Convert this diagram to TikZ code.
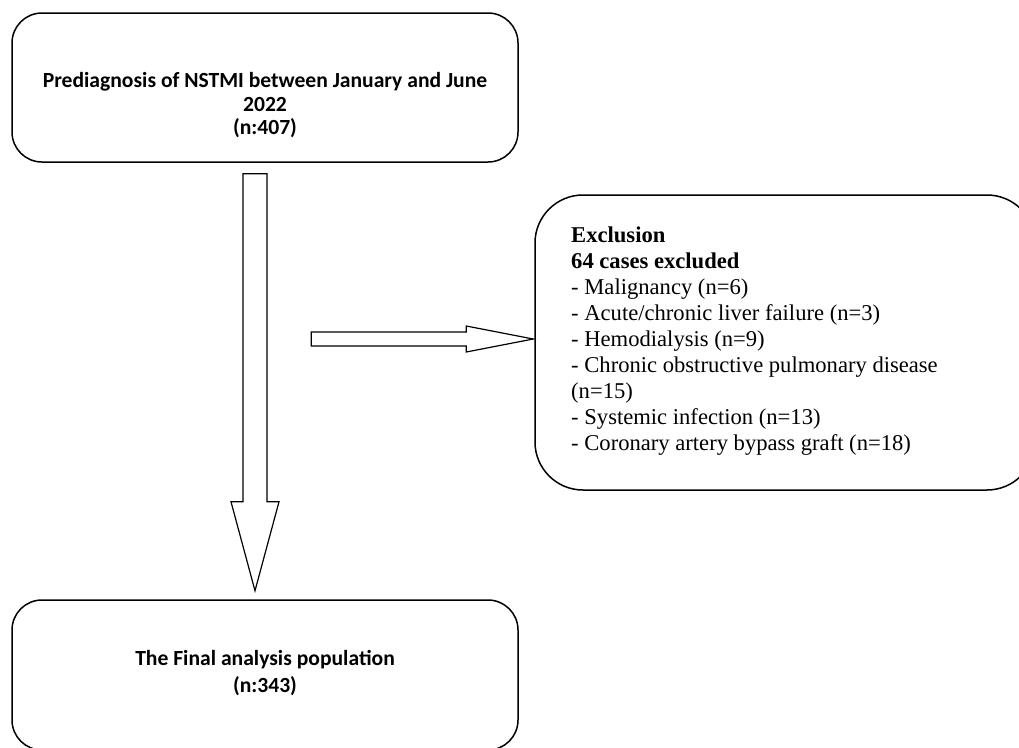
\documentclass[tikz,border=0pt]{standalone}
\usepackage{fontspec}
\setmainfont{Liberation Serif}
\setsansfont{Carlito}
\usetikzlibrary{positioning, calc}

\begin{document}
\begin{tikzpicture}[x=1pt, y=-1pt,
  box/.style={rectangle, draw, line width=1.5pt, rounded corners=30pt, inner sep=0pt},
  btxt/.style={font=\fontsize{21.6}{23.5}\selectfont\sffamily\bfseries, align=center},
  etxt/.style={font=\fontsize{22.6}{26}\selectfont, align=left, inner sep=0pt},
  hollow/.style={draw, line width=1.2pt, fill=white, line join=miter},
]
  \useasboundingbox (0,0) rectangle (1019,747);

  %% boxes
  \node[box, minimum width=506pt, minimum height=149pt] (prediag) at (265,87.5) {};
  \node[btxt] (prediagtxt) at ($(prediag.center)+(0,18)$)
    {Prediagnosis of NSTMI between January and June\\2022\\(n:407)};

  \node[box, rounded corners=48pt, minimum width=500pt, minimum height=295pt] (excl) at (785,342.5) {};
  \node[etxt, anchor=north west] (excltxt) at (571,227)
    {\textbf{Exclusion}\\\textbf{64 cases excluded}\\
     - Malignancy (n=6)\\
     - Acute/chronic liver failure (n=3)\\
     - Hemodialysis (n=9)\\
     - Chronic obstructive pulmonary disease\\
     (n=15)\\
     - Systemic infection (n=13)\\
     - Coronary artery bypass graft (n=18)};

  \node[box, minimum width=506pt, minimum height=150pt] (final) at (265,675) {};
  \node[btxt, font=\fontsize{21.6}{27}\selectfont\sffamily\bfseries] (finaltxt)
    at ($(final.center)+(0,-1.5)$) {The Final analysis population\\(n:343)};

  %% block arrows
  \draw[hollow] ($(prediag.south)+(-22,11)$) -- ++(24,0) -- ++(0,328) -- ++(12,0)
    -- ++(-24,89) -- ++(-24,-89) -- ++(12,0) -- cycle;
  \draw[hollow] ($(excl.west)+(-1,-3.5)$) -- ++(-67,13) -- ++(0,-6) -- ++(-155,0)
    -- ++(0,-14) -- ++(155,0) -- ++(0,-6) -- cycle;
\end{tikzpicture}
\end{document}
